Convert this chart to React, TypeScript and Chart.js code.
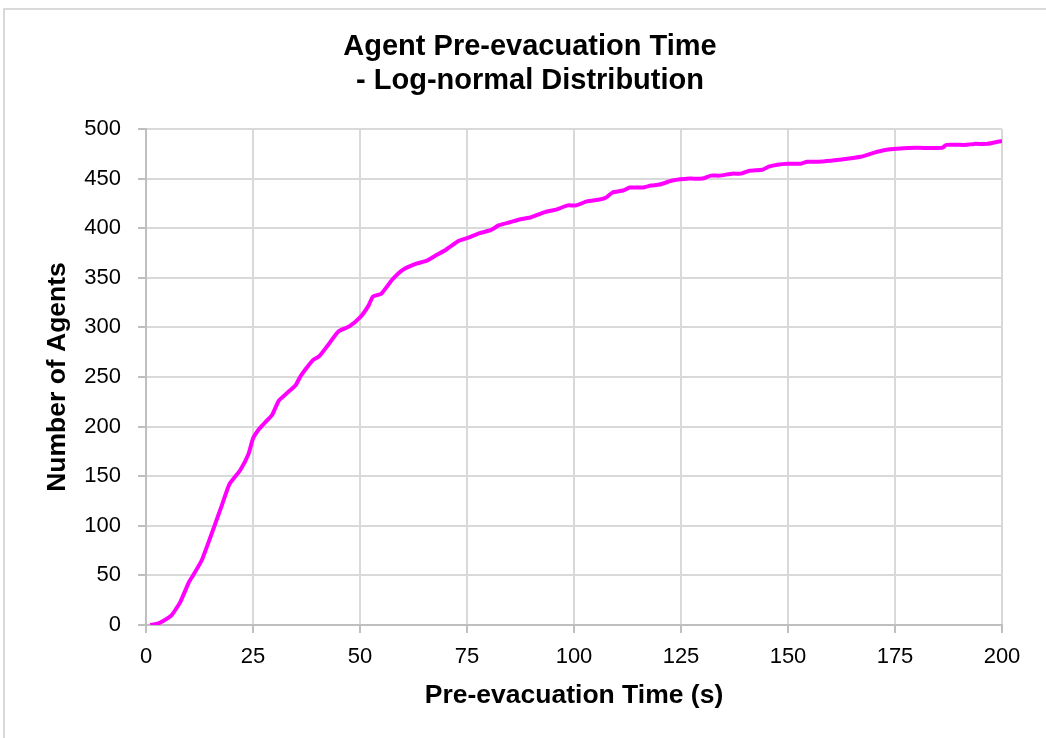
import React, { useEffect, useRef } from "react";
import { Chart, registerables } from "chart.js";

Chart.register(...registerables);

const titleLines = ["Agent Pre-evacuation Time", "- Log-normal Distribution"];
const xAxisTitle = "Pre-evacuation Time (s)";
const yAxisTitle = "Number of Agents";

const timeSeconds = [
  1, 2.5, 4, 6, 8, 10, 11, 13, 15, 17.5, 19.5, 22, 24, 25, 26.5, 28, 29.5, 31, 33, 35, 36,
  37.5, 39, 40.5, 42.5, 45, 47.5, 50, 52, 53, 55, 57.5, 60, 63, 65.5, 67.5, 70, 73, 75, 78,
  80.5, 82.5, 85, 87.5, 90, 93, 96, 98.5, 100.5, 103, 106, 107.5, 109, 111.5, 113, 116, 118,
  120, 123, 127, 130, 132, 134, 137, 139, 141, 144, 145.5, 147.5, 150, 153, 154.5, 157, 160,
  162, 167, 170, 173, 175.5, 180, 186, 187, 191.5, 193.5, 196.5, 200,
];

const agentCounts = [
  0, 1, 4, 10, 23, 43, 50, 65, 88, 118, 142, 156, 173, 188, 198, 205, 212, 226, 234, 242, 250,
  259, 267, 271, 282, 296, 301, 310, 322, 331, 334, 348, 358, 364, 367, 372, 378, 387, 390, 395,
  398, 403, 406, 409, 411, 416, 419, 423, 423, 427, 429, 431, 436, 438, 441, 441, 443,
  444, 448, 450, 450, 453, 453, 455, 455, 458, 459, 462, 464, 465, 465, 467, 467, 468,
  469, 472, 476, 479, 480, 481, 481, 484, 484, 485, 485, 488,
];

const xMin = 0;
const xMax = 200;
const xStep = 25;
const yMin = 0;
const yMax = 500;
const yStep = 50;

const FONT = "'Liberation Sans', Arial, Helvetica, sans-serif";

const framePlugin = {
  id: "frameBorder",
  beforeDraw(chart: any) {
    const ctx = chart.ctx;
    ctx.save();
    ctx.fillStyle = "#ffffff";
    ctx.fillRect(0, 0, chart.width, chart.height);
    ctx.strokeStyle = "#d9d9d9";
    ctx.lineWidth = 2;
    ctx.beginPath();
    ctx.moveTo(4, chart.height + 4);
    ctx.lineTo(4, 9);
    ctx.lineTo(chart.width + 4, 9);
    ctx.stroke();
    ctx.restore();
  },
};

const titlePlugin = {
  id: "customTitle",
  afterDraw(chart: any) {
    const ctx = chart.ctx;
    ctx.save();
    ctx.fillStyle = "#000000";
    ctx.font = `bold 29px ${FONT}`;
    ctx.textAlign = "center";
    ctx.textBaseline = "middle";
    titleLines.forEach((line, i) => {
      ctx.fillText(line, 530, 47 + i * 34);
    });
    ctx.restore();
  },
};

export default function App() {
  const canvasRef = useRef<HTMLCanvasElement | null>(null);

  useEffect(() => {
    if (!canvasRef.current) return;
    const points = timeSeconds.map((t, i) => ({ x: t, y: agentCounts[i] }));
    const chart = new Chart(canvasRef.current, {
      type: "line",
      data: {
        datasets: [
          {
            label: "Agents",
            data: points,
            borderColor: "#ff00ff",
            backgroundColor: "#ff00ff",
            borderWidth: 4,
            pointRadius: 0,
            tension: 0.15,
            fill: false,
          },
        ],
      },
      options: {
        responsive: false,
        animation: false,
        layout: { padding: { left: 0, right: 44, top: 129, bottom: 0 } },
        plugins: {
          legend: { display: false },
          tooltip: { enabled: false },
          title: { display: false },
        },
        scales: {
          x: {
            type: "linear",
            min: xMin,
            max: xMax,
            afterFit: (scale: any) => {
              scale.height = 113;
            },
            ticks: {
              stepSize: xStep,
              color: "#000000",
              font: { family: FONT, size: 22 },
              padding: 11,
              maxRotation: 0,
            },
            grid: {
              color: "#d9d9d9",
              lineWidth: 2,
              tickLength: 8,
              tickColor: "#bfbfbf",
              drawTicks: true,
            },
            border: { color: "#bfbfbf", width: 2 },
            title: {
              display: true,
              text: xAxisTitle,
              color: "#000000",
              font: { family: FONT, size: 26.5, weight: "bold" },
              padding: { top: 0, bottom: 26 },
            },
          },
          y: {
            type: "linear",
            min: yMin,
            max: yMax,
            afterFit: (scale: any) => {
              scale.width = 146;
            },
            ticks: {
              stepSize: yStep,
              color: "#000000",
              font: { family: FONT, size: 22 },
              padding: 17,
            },
            grid: {
              color: "#d9d9d9",
              lineWidth: 2,
              tickLength: 8,
              tickColor: "#bfbfbf",
              drawTicks: true,
            },
            border: { color: "#bfbfbf", width: 2 },
            title: {
              display: true,
              text: yAxisTitle,
              color: "#000000",
              font: { family: FONT, size: 26.5, weight: "bold" },
              padding: { top: 42, bottom: 0 },
            },
          },
        },
      },
      plugins: [framePlugin, titlePlugin],
    });
    return () => chart.destroy();
  }, []);

  return (
    <canvas
      ref={canvasRef}
      width={1046}
      height={738}
      style={{ position: "absolute", left: 0, top: 0, display: "block" }}
    />
  );
}
